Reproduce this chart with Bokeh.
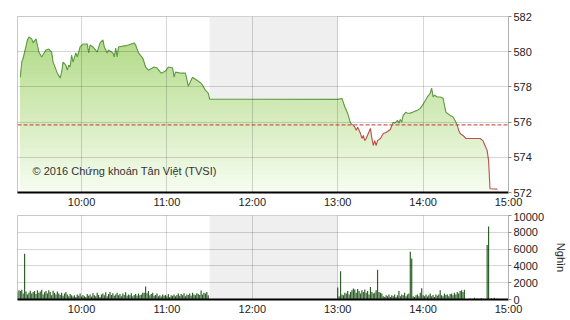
import numpy as np
import pandas as pd
from bokeh.plotting import figure
from bokeh.layouts import column
from bokeh.models import (Range1d, LinearAxis, FixedTicker, DatetimeTickFormatter,
                          BoxAnnotation, Span, Label)
from bokeh.embed import file_html
from bokeh.resources import INLINE

DAY = "2016-10-19 "
FONT = "Liberation Sans"

# ---------------- data ----------------
price_times = ["09:17", "09:18", "09:19", "09:22", "09:23", "09:25", "09:26", "09:28", "09:29", "09:30",
               "09:32", "09:35", "09:37", "09:39", "09:40", "09:43", "09:45", "09:46", "09:47", "09:49",
               "09:50", "09:51", "09:52", "09:53", "09:54", "09:56", "09:57", "09:59", "10:01", "10:04",
               "10:05", "10:06", "10:08", "10:11", "10:13", "10:15", "10:16", "10:18", "10:19", "10:22",
               "10:23", "10:24", "10:25", "10:26", "10:30", "10:33", "10:37", "10:38", "10:40", "10:43",
               "10:45", "10:47", "10:51", "10:53", "10:56", "10:59", "11:01", "11:04", "11:05", "11:06",
               "11:10", "11:13", "11:15", "11:18", "11:21", "11:24", "11:25", "11:27", "11:29", "11:30",
               "13:00", "13:03", "13:05", "13:07", "13:08", "13:09", "13:11", "13:12", "13:13", "13:14",
               "13:16", "13:17", "13:18", "13:19", "13:20", "13:23", "13:24", "13:25", "13:26", "13:27",
               "13:28", "13:30", "13:32", "13:34", "13:37", "13:38", "13:39", "13:40", "13:42", "13:43",
               "13:44", "13:45", "13:46", "13:48", "13:49", "13:51", "13:53", "13:56", "13:58", "14:00",
               "14:03", "14:05", "14:06", "14:07", "14:08", "14:10", "14:12", "14:14", "14:16", "14:17",
               "14:19", "14:21", "14:23", "14:24", "14:25", "14:26", "14:28", "14:30", "14:33", "14:40",
               "14:42", "14:45", "14:46", "14:47", "14:52"]
price_values = [578.55, 579.41, 579.64, 580.67, 580.84, 580.73, 580.50, 580.73, 580.38, 579.98,
                579.70, 580.10, 580.15, 579.98, 579.41, 578.78, 578.50, 578.84, 579.41, 579.24,
                578.95, 579.24, 579.13, 579.81, 579.41, 579.93, 579.70, 580.27, 580.44, 580.44,
                579.93, 580.38, 580.27, 579.98, 580.50, 580.67, 580.27, 579.93, 580.10, 579.93,
                579.70, 580.21, 579.70, 580.27, 580.33, 580.38, 580.50, 580.38, 579.93, 579.64,
                579.13, 578.95, 579.13, 579.07, 578.78, 578.90, 579.13, 579.07, 578.55, 578.84,
                578.78, 578.78, 578.04, 578.55, 578.38, 578.21, 578.10, 577.81, 577.64, 577.30,
                577.29, 577.34, 576.86, 576.50, 576.21, 575.94, 575.81, 575.71, 575.53, 575.71,
                575.35, 575.07, 575.24, 574.95, 575.07, 575.64, 575.07, 574.67, 574.95, 574.67,
                574.95, 575.07, 575.35, 575.41, 575.58, 575.81, 576.00, 575.93, 576.10, 575.93,
                576.15, 576.00, 576.38, 576.57, 576.50, 576.51, 576.57, 576.67, 576.78, 577.01,
                577.43, 577.64, 577.93, 577.43, 577.53, 577.43, 577.43, 577.35, 576.57, 576.50,
                576.38, 576.29, 576.00, 575.81, 575.53, 575.35, 575.24, 575.07, 575.07, 575.07,
                574.95, 574.38, 573.81, 572.21, 572.19]
ref_price = 575.84

# volume (thousand shares) per minute
vol_morning_start = "09:15"
vol_morning = [900, 1100, 1000, 1150, 700, 5440, 950, 600, 800, 1050,
               700, 900, 1000, 650, 1100, 800, 950, 1150, 600, 850,
               1000, 700, 1100, 900, 500, 1050, 800, 600, 950, 700,
               550, 800, 450, 700, 900, 600, 400, 650, 500, 350,
               500, 300, 600, 450, 700, 350, 550, 400, 300, 650,
               450, 600, 350, 750, 500, 400, 800, 550, 300, 600,
               700, 500, 850, 400, 650, 900, 550, 750, 450, 600,
               800, 500, 650, 400, 700, 550, 850, 450, 600, 500,
               750, 400, 550, 650, 450, 700, 500, 600, 800, 800,
               1550, 750, 1000, 500, 650, 800, 450, 550, 700, 400,
               500, 350, 600, 450, 550, 400, 650, 300, 500, 450,
               600, 400, 550, 700, 450, 650, 500, 750, 400, 600,
               550, 700, 450, 800, 600, 500, 750, 650, 550, 1070,
               600, 800, 700, 900, 500]
vol_afternoon_start = "13:00"
vol_afternoon = [1430, 400, 3370, 600, 500, 800, 700, 1000, 600, 900,
                 1100, 1300, 1200, 800, 1250, 1000, 700, 1100, 900, 1200,
                 800, 1000, 600, 1500, 900, 700, 800, 1100, 3530, 900,
                 800, 700, 400, 300, 500, 400, 600, 300, 500, 400,
                 600, 300, 500, 1000, 400, 600, 500, 800, 400, 600,
                 700, 5680, 4880, 400, 300, 500, 600, 400, 800, 1350,
                 500, 400, 600, 350, 500, 700, 400, 550, 300, 600,
                 450, 600, 1100, 500, 400, 700, 550, 600, 400, 650,
                 700, 500, 800, 600, 900, 700, 1000, 1100, 900, 1150]
vol_close_times = ["14:33", "14:36", "14:38", "14:41", "14:45", "14:46", "14:48", "14:50", "14:52"]
vol_close = [150, 200, 120, 180, 6500, 8700, 150, 200, 100]

hour_ticks = ["10:00", "11:00", "12:00", "13:00", "14:00", "15:00"]
price_ticks = [572, 574, 576, 578, 580, 582]
vol_ticks = [0, 2000, 4000, 6000, 8000, 10000]


def ms(t):
    return pd.Timestamp(DAY + t).value // 10**6


x_start, x_end = ms("09:15"), ms("15:00")
lunch_start, lunch_end = ms("11:30"), ms("13:00")
tick_ms = [ms(t) for t in hour_ticks]

# price with crossing points inserted
t = np.array([ms(s) for s in price_times], dtype=float)
v = np.array(price_values)
xs, ys = [t[0]], [v[0]]
for i in range(1, len(v)):
    a, b = v[i - 1], v[i]
    if (a - ref_price) * (b - ref_price) < 0:
        f = (ref_price - a) / (b - a)
        xs.append(t[i - 1] + f * (t[i] - t[i - 1]))
        ys.append(ref_price)
    xs.append(t[i])
    ys.append(b)
xs, ys = np.array(xs), np.array(ys)
green_y = np.where(ys >= ref_price - 1e-9, ys, np.nan)
red_y = np.where(ys <= ref_price + 1e-9, ys, np.nan)

# volume arrays
vx, vv = [], []
base = ms(vol_morning_start)
for i, q in enumerate(vol_morning):
    vx.append(base + i * 60000); vv.append(q)
base = ms(vol_afternoon_start)
for i, q in enumerate(vol_afternoon):
    vx.append(base + i * 60000); vv.append(q)
for s, q in zip(vol_close_times, vol_close):
    vx.append(ms(s)); vv.append(q)

x_range = Range1d(x_start, x_end)
fmt = DatetimeTickFormatter(minutes="%H:%M", hours="%H:%M", hourmin="%H:%M",
                            days="%H:%M", minsec="%H:%M", seconds="%H:%M")


def style(p, yticks):
    p.outline_line_color = "#c8c8c8"
    p.xaxis.ticker = FixedTicker(ticks=tick_ms)
    p.xaxis.formatter = fmt
    p.xaxis.axis_line_color = "black"
    p.xaxis.axis_line_width = 2
    p.xaxis.major_tick_line_color = None
    p.xaxis.major_tick_out = 0
    p.xaxis.major_tick_in = 0
    p.xaxis.minor_tick_line_color = None
    p.xaxis.minor_tick_out = 0
    p.xaxis.major_label_text_font = FONT
    p.xaxis.major_label_text_font_size = "11px"
    p.xaxis.major_label_text_color = "#222222"
    p.xaxis.major_label_standoff = 3
    for g in (p.xgrid, p.ygrid):
        g.grid_line_color = "black"
        g.grid_line_alpha = 0.16
        g.level = "overlay"
    p.xgrid.ticker = FixedTicker(ticks=tick_ms)
    ax = LinearAxis(ticker=FixedTicker(ticks=yticks))
    ax.axis_line_color = "#b0b0b0"
    ax.major_tick_line_color = "#909090"
    ax.major_tick_out = 3
    ax.major_tick_in = 0
    ax.minor_tick_line_color = None
    ax.major_label_standoff = 2
    ax.major_label_text_font = FONT
    ax.major_label_text_font_size = "11px"
    ax.major_label_text_color = "#222222"
    p.add_layout(ax, "right")
    p.ygrid.ticker = FixedTicker(ticks=yticks)
    p.add_layout(BoxAnnotation(left=lunch_start, right=lunch_end, fill_color="#efefef",
                               fill_alpha=1, line_color=None, level="image"))
    return ax


# ---------------- top chart ----------------
p1 = figure(width=570, height=212, x_axis_type="datetime", x_range=x_range,
            y_range=Range1d(572, 582), toolbar_location=None, output_backend="svg",
            min_border_left=17, min_border_right=62, min_border_top=16, min_border_bottom=20,
            y_axis_location=None)
style(p1, price_ticks)

top_c = np.array([168, 214, 122])
bot_c = np.array([247, 252, 240])
nb = 40
for k in range(nb - 1, -1, -1):
    hi = 572 + (k + 1) * 10.0 / nb
    frac = (k + 0.5) / nb
    c = bot_c + (top_c - bot_c) * frac
    col = "#%02x%02x%02x" % tuple(int(round(x)) for x in c)
    p1.varea(x=xs, y1=572, y2=np.minimum(ys, hi), fill_color=col, fill_alpha=0.9)

p1.add_layout(Span(location=ref_price, dimension="width", line_color="#c8372d",
                   line_dash="4 2", line_width=1))
p1.line(xs, green_y, line_color="#619b48", line_width=1.1)
p1.line(xs, red_y, line_color="#c0504d", line_width=1.1)
p1.add_layout(Label(x=ms("09:25") + 36000, y=573.24, text="© 2016 Chứng khoán Tân Việt (TVSI)",
                    text_baseline="middle", text_font=FONT, text_font_size="11px",
                    text_color="#333333"))

# ---------------- bottom chart ----------------
p2 = figure(width=570, height=108, x_axis_type="datetime", x_range=x_range,
            y_range=Range1d(0, 10000), toolbar_location=None, output_backend="svg",
            min_border_left=17, min_border_right=62, min_border_top=3, min_border_bottom=21,
            y_axis_location=None)
ax2 = style(p2, vol_ticks)
ax2.axis_label = "Nghìn"
ax2.axis_label_text_font = FONT
ax2.axis_label_text_font_size = "11px"
ax2.axis_label_text_font_style = "normal"
ax2.axis_label_text_color = "#222222"
ax2.axis_label_standoff = 8
p2.vbar(x=vx, top=vv, bottom=0, width=50000, fill_color="#2f5f2a", line_color=None)

layout = column(p1, p2)
open("out.html", "w").write(file_html(layout, INLINE))
